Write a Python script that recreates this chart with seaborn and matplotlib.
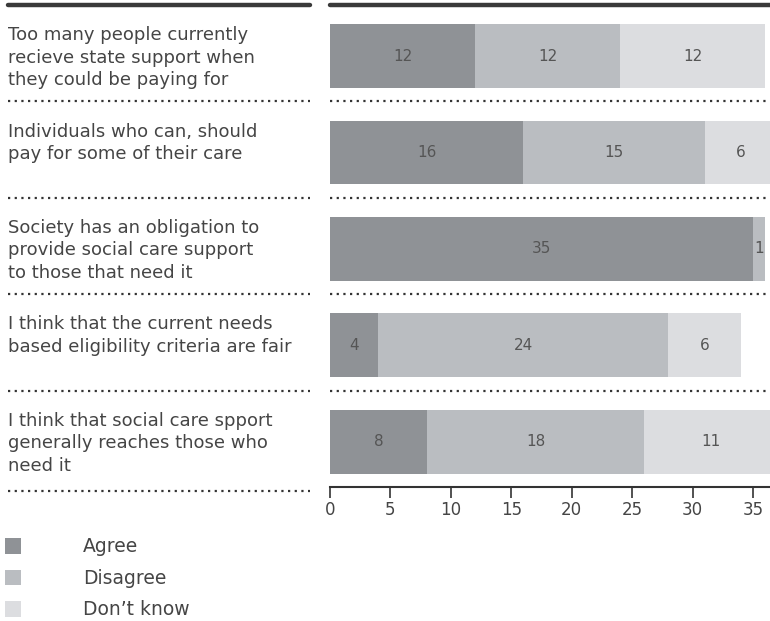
import matplotlib
matplotlib.use("Agg")
import matplotlib.pyplot as plt
from matplotlib.patches import Patch
import numpy as np
import pandas as pd
import seaborn as sns

statements = [
    "Too many people currently\nrecieve state support when\nthey could be paying for",
    "Individuals who can, should\npay for some of their care",
    "Society has an obligation to\nprovide social care support\nto those that need it",
    "I think that the current needs\nbased eligibility criteria are fair",
    "I think that social care spport\ngenerally reaches those who\nneed it",
]
agree = [12, 16, 35, 4, 8]
disagree = [12, 15, 1, 24, 18]
dont_know = [12, 6, 0, 6, 11]
series_names = ["Agree", "Disagree", "Don\u2019t know"]
x_ticks = [0, 5, 10, 15, 20, 25, 30, 35]

colors = ["#8f9296", "#babdc1", "#dcdde0"]
text_col = "#454545"
line_col = "#333333"

sns.set_theme(style="white")
plt.rcParams["font.family"] = ["DejaVu Sans"]

df = pd.DataFrame({"statement": statements, "Agree": agree,
                   "Disagree": disagree, "Don\u2019t know": dont_know})
df["c1"] = df["Agree"]
df["c2"] = df["c1"] + df["Disagree"]
df["c3"] = df["c2"] + df["Don\u2019t know"]

W, H = 770, 621
fig = plt.figure(figsize=(W / 100, H / 100), dpi=100)
top_px, bot_px = 5, 487
ax = fig.add_axes([330 / W, 1 - bot_px / H, 440 / W, (bot_px - top_px) / H])
axl = fig.add_axes([8 / W, 1 - bot_px / H, 302 / W, (bot_px - top_px) / H])

# stacked bars by overplotting cumulative totals
for col, c in zip(["c3", "c2", "c1"], colors[::-1]):
    sns.barplot(data=df, x=col, y="statement", color=c, width=0.66,
                saturation=1, ax=ax, orient="h", linewidth=0)

n = len(statements)
ax.set_xlim(0, 36.4)
ax.set_ylim(n - 0.53, -0.53)

for i, row in df.iterrows():
    prev = 0
    for name in series_names:
        v = row[name]
        if v > 0:
            ax.text(prev + v / 2, i, str(v), ha="center", va="center",
                    fontsize=11, color="#555555")
        prev += v

# separators
dots = (0, (1, 2))
for a in (ax, axl):
    for i in range(n - 1):
        a.axhline(i + 0.47, color=line_col, lw=1.6, ls=dots)
    a.axhline(-0.53, color="#3a3a3a", lw=3.2, clip_on=False)
axl.axhline(n - 0.47 - 0.02, color=line_col, lw=1.6, ls=dots, clip_on=False)

ax.set_yticks([])
ax.set_ylabel("")
ax.set_xlabel("")
ax.set_xticks(x_ticks)
ax.set_xticklabels([str(t) for t in x_ticks], fontsize=12, color=text_col)
ax.tick_params(axis="x", direction="out", length=8, width=1.2,
               color=line_col, pad=2, bottom=True)
for s in ["top", "right", "left"]:
    ax.spines[s].set_visible(False)
ax.spines["bottom"].set_color(line_col)
ax.spines["bottom"].set_linewidth(1.5)

# statement labels
axl.set_xlim(0, 1)
axl.set_ylim(n - 0.53, -0.53)
axl.axis("off")
for i, s in enumerate(statements):
    axl.text(0, i - 0.31, s, ha="left", va="top", fontsize=13,
             color=text_col, linespacing=1.32)

handles = [Patch(facecolor=c, edgecolor="none") for c in colors]
fig.legend(handles, series_names, loc="upper left",
           bbox_to_anchor=(-3 / W, 1 - 530 / H), frameon=False,
           fontsize=13.5, handlelength=0.9, handleheight=0.9,
           handletextpad=3.3, labelspacing=0.66, borderaxespad=0,
           labelcolor=text_col)

fig.savefig("out.png", dpi=100)
